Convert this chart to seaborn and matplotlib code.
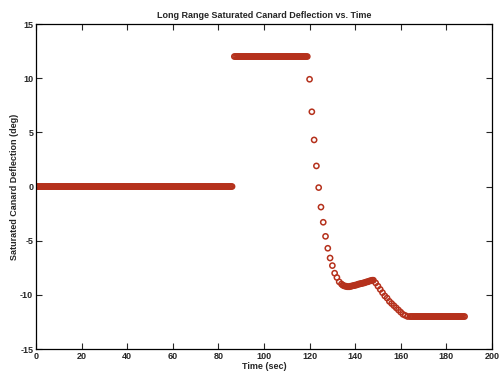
import numpy as np
import pandas as pd
import matplotlib
matplotlib.use("Agg")
import matplotlib.pyplot as plt
import seaborn as sns

# --- data ---
t_zero = list(np.arange(0, 86.5, 0.5))        # 0..86 s, deflection 0
y_zero = [0.0] * len(t_zero)
t_sat = list(np.arange(87, 119.5, 0.5))       # 87..119 s, saturated at +12
y_sat = [12.0] * len(t_sat)
t_drop = list(range(120, 135))                # fast drop 120..134 s
y_drop = [9.9, 6.9, 4.3, 1.9, -0.1, -1.9, -3.3, -4.6, -5.7, -6.6,
          -7.3, -8.0, -8.4, -8.8, -9.0]
t_plat = list(np.arange(134.5, 148.5, 0.5))   # trough/plateau 134.5..148 s
y_plat = [-9.1, -9.15, -9.2, -9.2, -9.25, -9.25, -9.25, -9.2, -9.2, -9.15,
          -9.15, -9.1, -9.1, -9.05, -9.0, -9.0, -8.95, -8.95, -8.9, -8.9,
          -8.85, -8.8, -8.8, -8.75, -8.7, -8.7, -8.65, -8.65]
t_decl = list(range(149, 164))                # decline 149..163 s
y_decl = [-8.9, -9.2, -9.5, -9.8, -10.1, -10.3, -10.6, -10.8, -11.0, -11.2,
          -11.4, -11.6, -11.8, -11.9, -12.0]
t_neg = list(np.arange(164, 188.5, 0.5))      # 164..188 s, saturated at -12
y_neg = [-12.0] * len(t_neg)

x_ticks = [0, 20, 40, 60, 80, 100, 120, 140, 160, 180, 200]
y_ticks = [-15, -10, -5, 0, 5, 10, 15]

df = pd.DataFrame({
    "time": t_zero + t_sat + t_drop + t_plat + t_decl + t_neg,
    "defl": y_zero + y_sat + y_drop + y_plat + y_decl + y_neg,
})

sns.set_style("ticks")
plt.rcParams["font.family"] = ["Liberation Sans", "DejaVu Sans"]
plt.rcParams["axes.unicode_minus"] = False

fig = plt.figure(figsize=(5.03, 3.74), dpi=100)
ax = fig.add_axes([0.0716, 0.0668, 0.9064, 0.8690])

sns.scatterplot(data=df, x="time", y="defl", ax=ax, marker="o", s=14,
                facecolor="none", edgecolor="#b5311c", linewidth=1.1, legend=False)

ax.set_xlim(0, 200)
ax.set_ylim(-15, 15)
ax.set_xticks(x_ticks)
ax.set_yticks(y_ticks)
ax.tick_params(direction="in", top=True, right=True, length=4, width=0.8,
               labelsize=6.5, pad=2)
for lab in ax.get_xticklabels() + ax.get_yticklabels():
    lab.set_fontweight("bold")
for sp in ax.spines.values():
    sp.set_visible(True)
    sp.set_linewidth(0.9)
    sp.set_color("black")

ax.set_xlabel("Time (sec)", fontsize=6.5, fontweight="bold", labelpad=1)
ax.set_ylabel("Saturated Canard Deflection (deg)", fontsize=6.5, fontweight="bold", labelpad=1)
ax.set_title("Long Range Saturated Canard Deflection vs. Time", fontsize=6.5,
             fontweight="bold", pad=4)

fig.savefig("out.png", dpi=100)
